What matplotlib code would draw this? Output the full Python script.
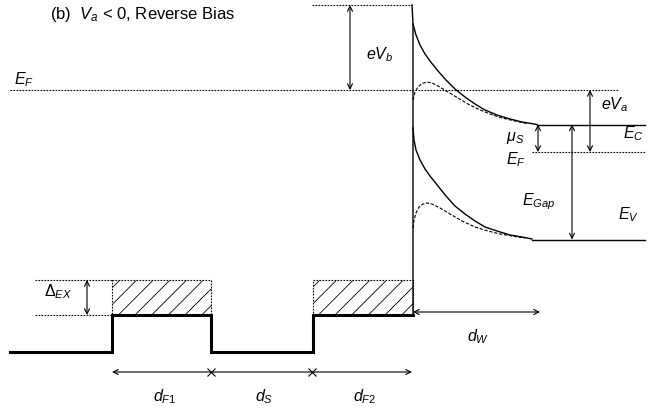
import matplotlib
matplotlib.use('Agg')
import matplotlib.pyplot as plt
import matplotlib.patches as patches

plt.rcParams['font.family'] = ['Liberation Sans', 'DejaVu Sans']
plt.rcParams['mathtext.fontset'] = 'custom'
plt.rcParams['mathtext.rm'] = 'Liberation Sans'
plt.rcParams['mathtext.it'] = 'Liberation Sans:italic'
plt.rcParams['hatch.color'] = '#999999'
plt.rcParams['hatch.linewidth'] = 0.6

# band curves (pixel coords, y grows downwards)
cond_x = [413, 416, 420, 425, 430, 438, 446, 455, 465, 475, 485, 497, 510, 522, 537]
cond_y = [24, 35, 45, 54, 61, 71, 80, 89, 97, 104, 110, 115, 119, 122, 124.5]
cond_dash_x = [413, 415, 418, 422, 427, 432, 438, 448, 458, 468, 478, 490, 502, 515, 527]
cond_dash_y = [100, 92, 87, 83.5, 82, 83, 86, 92, 98, 104, 109, 114, 118, 121, 123.5]
val_x = [413, 414, 416, 420, 425, 430, 438, 446, 455, 465, 475, 485, 497, 510, 522, 532]
val_y = [128, 140, 150, 160, 169, 176, 186, 196, 206, 214, 221, 227, 231, 235, 237, 239]
val_dash_x = [413, 414, 416, 419, 423, 427, 432, 440, 450, 462, 475, 488, 500, 512, 525]
val_dash_y = [228, 220, 213, 207, 204, 203, 204, 208, 214, 221, 227, 231, 234, 236, 238]

# levels
y_top = 5
y_ef = 90
y_ec = 124.5
y_ef_s = 152
y_ev = 239.5
x_int = 413

# exchange-split profile at the bottom
step_x = [10, 112, 112, 211, 211, 313, 313, 413]
step_y = [352, 352, 315, 315, 352, 352, 315, 315]
y_ex = 280
ferro = [(112, 211), (313, 413)]
dim_marks = [112, 211, 312, 412]
dim_labels = [r'$d_{F\mathit{1}}$', r'$d_S$', r'$d_{F\mathit{2}}$']

fig = plt.figure(figsize=(6.62, 4.12), dpi=100)
ax = fig.add_axes([0, 0, 1, 1])
ax.set_xlim(0, 662)
ax.set_ylim(412, 0)
ax.axis('off')

k = 'black'
dot = dict(color=k, lw=0.8, ls=(0, (1.5, 1.2)))
dash = dict(color=k, lw=0.8, ls=(0, (3, 1.5)))


def arrow(x0, y0, x1, y1, style='<->'):
    ax.annotate('', xy=(x1, y1), xytext=(x0, y0),
                arrowprops=dict(arrowstyle=style, lw=0.8, color=k,
                                shrinkA=0, shrinkB=0, mutation_scale=9))


fs = 11.5

# title
ax.text(50, 14, r'(b)  $V_a$ < 0, Reverse Bias', fontsize=12, va='center')

# Fermi level (left) and barrier top
ax.plot([10, 618], [y_ef, y_ef], **dot)
ax.plot([312, 412], [y_top, y_top], **dot)
ax.text(14, 80, r'$E_F$', fontsize=fs, va='center')

# interface
ax.plot([412, x_int, x_int], [y_top, 24, 315], color=k, lw=1.0)

# bands
ax.plot(cond_x, cond_y, color=k, lw=1.0)
ax.plot(val_x, val_y, color=k, lw=1.0)
ax.plot(cond_dash_x, cond_dash_y, **dash)
ax.plot(val_dash_x, val_dash_y, **dash)
ax.plot([537, 645], [y_ec, y_ec], color=k, lw=1.0)
ax.plot([532, 645], [y_ev, y_ev], color=k, lw=1.0)
ax.plot([532, 645], [y_ef_s, y_ef_s], **dot)

# energy arrows
arrow(350, y_top, 350, y_ef)
ax.text(366, 55, r'$eV_b$', fontsize=fs, va='center')
arrow(590, y_ef, 590, y_ef_s)
ax.text(601, 105, r'$eV_a$', fontsize=fs, va='center')
arrow(538, y_ec, 538, y_ef_s)
ax.text(506, 138, r'$\mu_S$', fontsize=fs, va='center')
ax.text(506, 160, r'$E_F$', fontsize=fs, va='center')
arrow(572, y_ec, 572, y_ev)
ax.text(522, 202, r'$E_{Gap}$', fontsize=fs, va='center')
ax.text(623, 134, r'$E_C$', fontsize=fs, va='center')
ax.text(618, 215, r'$E_V$', fontsize=fs, va='center')

# exchange splitting boxes
for x0, x1 in ferro:
    ax.add_patch(patches.Rectangle((x0, y_ex), x1 - x0, 315 - y_ex, fill=False,
                                   hatch='//', lw=0.8, ls=(0, (1.5, 1.2)),
                                   edgecolor=k))
ax.plot([35, 112], [y_ex, y_ex], **dot)
ax.plot([35, 112], [315, 315], **dot)
arrow(87, y_ex, 87, 315)
ax.text(44, 292, r'$\mathit{\Delta}_{EX}$', fontsize=fs, va='center')

ax.plot(step_x, step_y, color=k, lw=2.2, solid_joinstyle='miter')

# widths
arrow(x_int, 312, 540, 312)
ax.text(467, 337, r'$d_W$', fontsize=fs, va='center')
arrow(dim_marks[0], 372, dim_marks[-1], 372)
for xm in dim_marks[1:-1]:
    ax.plot(xm, 372, marker='x', color=k, ms=6, mew=0.8)
for i, lab in enumerate(dim_labels):
    xc = (dim_marks[i] + dim_marks[i + 1]) / 2
    ax.text(xc + 3, 397, lab, fontsize=fs, va='center', ha='center')

fig.savefig('out.png', dpi=100)
